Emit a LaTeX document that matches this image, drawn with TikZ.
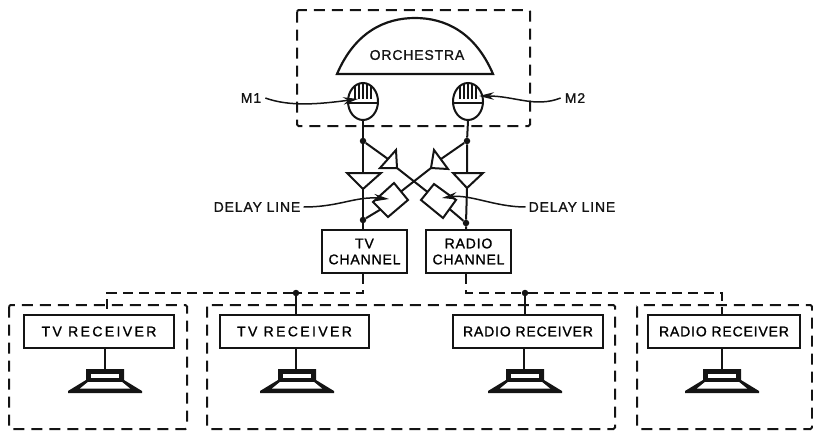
\documentclass[tikz,border=0pt]{standalone}
\usepackage{fontspec}
\setmainfont[FakeBold=1.1,LetterSpace=6]{Liberation Sans}
\usetikzlibrary{arrows.meta,shapes.geometric,calc}
\tikzset{
  ink/.style={line width=2pt,draw=black!92},
  dashbox/.style={line width=2pt,draw=black!92,dash pattern=on 11pt off 7pt,rounded corners=1.5pt},
  dashwire/.style={line width=1.7pt,draw=black!92,dash pattern=on 10pt off 6pt},
  solidbox/.style={draw=black!92,line width=2pt,inner sep=0pt,fill=white,align=center,font=\fontsize{14}{16}\selectfont},
  lab/.style={inner sep=0pt,text=black!92,font=\fontsize{14}{16}\selectfont},
  junction/.style={circle,fill=black!92,inner sep=0pt,minimum size=6.5pt},
  mike/.style={ellipse,draw=black!92,line width=2pt,minimum width=30pt,minimum height=37pt,inner sep=0pt},
  call/.style={line width=1.5pt,draw=black!92,-{Stealth[length=15pt,width=7.5pt]}},
}
\newcommand{\speakerat}[1]{%
  \fill[black!92] (#1-19,369)--(#1+19,369)--(#1+19,380)--(#1+37,391)--(#1+37,393)--(#1-37,393)--(#1-37,391)--(#1-19,380)--cycle;
  \fill[white] (#1-14,374) rectangle (#1+14,378);
  \fill[white] (#1-17,382)--(#1+17,382)--(#1+25,388.5)--(#1-25,388.5)--cycle;
}
\newcommand{\widetv}{\addfontfeature{LetterSpace=17}}
\begin{document}
\begin{tikzpicture}[x=1pt,y=-1pt]
\useasboundingbox (0,0) rectangle (813,431);
% Orchestra area
\draw[dashbox] (297,10) rectangle (530,126);
\draw[ink,line width=2.2pt] (337,74) .. controls (355,32) and (385,18) .. (415,18) .. controls (445,18) and (475,32) .. (493,74) -- cycle;
\node[lab] (orch) at (417,55) {ORCHESTRA};
\node[mike,fill=white] (ml) at (363,101.5) {};
\node[mike,fill=white] (mr) at (468,101.5) {};
\begin{scope}
\clip (363,101.5) ellipse [x radius=15,y radius=18.5];
\foreach \d in {-8,-4,0,4,8} \draw[line width=2pt,black!92] (363+\d,82)--(363+\d,99);
\end{scope}
\begin{scope}
\clip (468,101.5) ellipse [x radius=15,y radius=18.5];
\foreach \d in {-8,-4,0,4,8} \draw[line width=2pt,black!92] (468+\d,82)--(468+\d,99);
\end{scope}
\coordinate (lev) at (0,103);
\draw[ink] (ml.west |- lev) -- (ml.east |- lev);
\draw[ink] (mr.west |- lev) -- (mr.east |- lev);
% channels
\node[solidbox,minimum width=85pt,minimum height=43pt] (tv) at (364.5,251.5) {TV\\CHANNEL};
\node[solidbox,minimum width=85pt,minimum height=43pt] (radio) at (468.5,251.5) {RADIO\\CHANNEL};
% junctions
\node[junction] (jl) at (363,141) {};
\node[junction] (jr) at (467,141) {};
\node[junction] (jlb) at (363,220) {};
\node[junction] (jrb) at (466,223) {};
% named corners of amplifiers
\coordinate (ltA) at (347,173); \coordinate (ltB) at (381,173); \coordinate (ltT) at (363,173); \coordinate (ltO) at (363,189);
\coordinate (rtA) at (453,173); \coordinate (rtB) at (483,173); \coordinate (rtT) at (467,173); \coordinate (rtO) at (467,188);
\coordinate (xlA) at (396,150); \coordinate (xlB) at (380,168); \coordinate (xlI) at (388,159); \coordinate (xlO) at (397,168);
\coordinate (xrA) at (434,150); \coordinate (xrB) at (431,168); \coordinate (xrC) at (448,169); \coordinate (xrI) at (441,159);
% delay lines
\coordinate (d1n) at (394,183); \coordinate (d1e) at (408,200); \coordinate (d1s) at (388,217); \coordinate (d1w) at (373,202);
\coordinate (d2n) at (434,184); \coordinate (d2e) at (456,200); \coordinate (d2s) at (443,218); \coordinate (d2w) at (421,200);
\draw[ink] (ltA)--(ltB)--(ltO)--cycle;
\draw[ink] (rtA)--(rtB)--(rtO)--cycle;
\draw[ink] (xlA)--(xlO)--(xlB)--cycle;
\draw[ink] (xrA)--(xrC)--(xrB)--cycle;
\draw[ink] (d1n)--(d1e)--(d1s)--(d1w)--cycle;
\draw[ink] (d2n)--(d2e)--(d2s)--(d2w)--cycle;
% wires
\draw[ink] (ml.south)--(jl)--(ltT);
\draw[ink] (ltO)--(jlb)--(tv.north -| jlb);
\draw[ink] (mr.south)--(jr)--(rtT);
\draw[ink] (rtO)--(jrb)--(radio.north -| jrb);
\draw[ink] (jl)--(xlI);
\draw[ink] (jr)--(xrI);
\draw[ink] (xlO)--($(d2w)!0.5!(d2n)$);
\draw[ink] (xrB)--($(d1n)!0.5!(d1e)$);
\draw[ink] ($(d1w)!0.5!(d1s)$)--(jlb);
\draw[ink] ($(d2e)!0.5!(d2s)$)--(jrb);
% labels and callouts
\node[lab] (m1) at (251,98) {M1};
\node[lab] (m2) at (575,98) {M2};
\node[lab] (dl1) at (257,207) {DELAY LINE};
\node[lab] (dl2) at (572,207) {DELAY LINE};
\coordinate (m1t) at (358,99); \coordinate (m2t) at (479,96);
\coordinate (d1t) at (389,199); \coordinate (d2t) at (442,198);
\draw[call] (m1.east) ++(4,0) coordinate (m1s) .. controls (290,107) and (320,104) .. (m1t);
\draw[call] (m2.west) ++(-4,0) coordinate (m2s) .. controls (535,108) and (515,96) .. (m2t);
\draw[call] (dl1.east) ++(3,0) coordinate (d1c) .. controls (340,207) and (355,196) .. (d1t);
\draw[call] (dl2.west) ++(-3,0) coordinate (d2c) .. controls (495,207) and (470,194) .. (d2t);
% outer receiver boxes
\draw[dashbox] (9,305) rectangle (187,429);
\draw[dashbox] (207,305) rectangle (615,429);
\draw[dashbox] (637,305) rectangle (812,429);
\node[solidbox,minimum width=150pt,minimum height=33pt] (r1) at (99,331.5) {\widetv TV RECEIVER};
\node[solidbox,minimum width=149pt,minimum height=33pt] (r2) at (294.5,331.5) {\widetv TV RECEIVER};
\node[solidbox,minimum width=150pt,minimum height=33pt] (r3) at (528,331.5) {RADIO RECEIVER};
\node[solidbox,minimum width=152pt,minimum height=33pt] (r4) at (724,331.5) {RADIO RECEIVER};
% speakers
\coordinate (s1) at (105,369); \coordinate (s2) at (296,369); \coordinate (s3) at (524,369); \coordinate (s4) at (722,369);
\speakerat{105} \speakerat{297} \speakerat{525} \speakerat{722}
\draw[ink,line width=1.5pt] (s1 |- r1.south)--(s1);
\draw[ink,line width=1.5pt] (s2 |- r2.south)--(s2);
\draw[ink,line width=1.5pt] (s3 |- r3.south)--(s3);
\draw[ink,line width=1.5pt] (s4 |- r4.south)--(s4);
% distribution
\node[junction] (j2) at (296,293) {};
\node[junction] (j3) at (525,293) {};
\coordinate (b1) at (107,293); \coordinate (b4) at (722,293);
\coordinate (t1) at (363,293); \coordinate (t2) at (466,293);
\draw[dashwire] (tv.south -| t1)--(t1)--(j2)--(b1)--(b1 |- r1.north);
\draw[dashwire] (radio.south -| t2)--(t2)--(j3)--(b4)--(b4 |- r4.north);
\draw[ink,line width=1.5pt] (j2)--(j2 |- r2.north);
\draw[ink,line width=1.5pt] (j3)--(j3 |- r3.north);
\end{tikzpicture}
\end{document}
